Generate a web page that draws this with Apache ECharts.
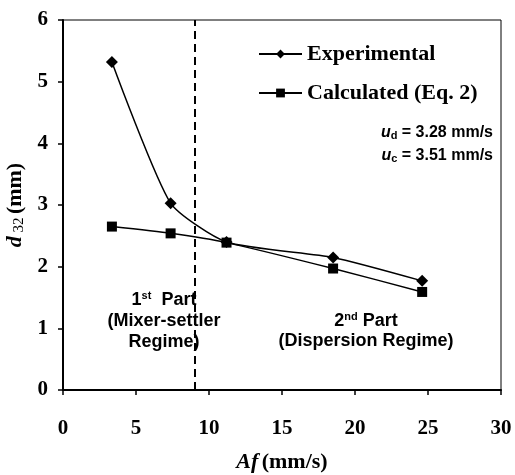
<!DOCTYPE html>
<html>
<head>
<meta charset="utf-8">
<script src="https://cdn.jsdelivr.net/npm/echarts@6/dist/echarts.min.js"></script>
<style>html,body{margin:0;padding:0;background:#fff;}#chart{width:515px;height:475px;}</style>
</head>
<body>
<div id="chart"></div>
<script>
const afValues = [3.35, 7.37, 11.2, 18.5, 24.6];
const experimental = [5.32, 3.03, 2.40, 2.15, 1.77];
const calculated = [2.65, 2.54, 2.39, 1.97, 1.59];
const regimeBoundary = 9;
const xTicks = { min: 0, max: 30, interval: 5 };
const yTicks = { min: 0, max: 6, interval: 1 };

const serif = "'Liberation Serif', 'Times New Roman', serif";
const sans = "'Liberation Sans', Arial, sans-serif";

const chart = echarts.init(document.getElementById('chart'), null, { renderer: 'canvas' });

function pairs(xs, ys) { return xs.map((x, i) => [x, ys[i]]); }

const option = {
  backgroundColor: '#fff',
  animation: false,
  grid: {
    left: 63, right: 14, top: 20, bottom: 85, containLabel: false, outerBoundsMode: 'none',
    show: true, borderColor: '#000', borderWidth: 1, backgroundColor: 'transparent'
  },
  legend: {
    orient: 'vertical', left: 253, top: 38,
    itemWidth: 43, itemHeight: 11, itemGap: 17,
    textStyle: { fontFamily: serif, fontWeight: 'bold', fontSize: 22, color: '#000', lineHeight: 22 },
    data: ['Experimental', 'Calculated (Eq. 2)']
  },
  xAxis: {
    type: 'value', min: xTicks.min, max: xTicks.max, interval: xTicks.interval,
    name: '{i|Af} {n|(mm/s)}', nameLocation: 'middle', nameGap: 61,
    nameTextStyle: {
      color: '#000',
      rich: {
        i: { fontFamily: serif, fontWeight: 'bold', fontStyle: 'italic', fontSize: 22, color: '#000' },
        n: { fontFamily: serif, fontWeight: 'bold', fontSize: 22, color: '#000' }
      }
    },
    axisLine: { lineStyle: { color: '#000', width: 2 } },
    axisTick: { show: true, inside: false, length: 5, lineStyle: { color: '#000', width: 1.5 } },
    axisLabel: { color: '#000', fontFamily: serif, fontWeight: 'bold', fontSize: 21, margin: 28 },
    splitLine: { show: false }
  },
  yAxis: {
    type: 'value', min: yTicks.min, max: yTicks.max, interval: yTicks.interval,
    name: '{i|d}{s| 32} {n|(mm)}', nameLocation: 'middle', nameGap: 34, nameRotate: 90,
    nameTextStyle: {
      color: '#000',
      rich: {
        i: { fontFamily: serif, fontWeight: 'bold', fontStyle: 'italic', fontSize: 22, color: '#000' },
        s: { fontFamily: serif, fontSize: 15, color: '#000', verticalAlign: 'bottom' },
        n: { fontFamily: serif, fontWeight: 'bold', fontSize: 22, color: '#000' }
      }
    },
    axisLine: { show: true, lineStyle: { color: '#000', width: 2 } },
    axisTick: { show: true, inside: false, length: 5, lineStyle: { color: '#000', width: 1.5 } },
    axisLabel: { color: '#000', fontFamily: serif, fontWeight: 'bold', fontSize: 21, margin: 15 },
    splitLine: { show: false }
  },
  series: [
    {
      name: 'Experimental', type: 'line', smooth: 0.2,
      data: pairs(afValues, experimental),
      symbol: 'diamond', symbolSize: 12,
      itemStyle: { color: '#000' },
      lineStyle: { color: '#000', width: 1.5 },
      z: 3,
      markLine: {
        silent: true, symbol: 'none', label: { show: false },
        lineStyle: { color: '#000', type: [8, 5], width: 2 },
        data: [{ xAxis: regimeBoundary }]
      }
    },
    {
      name: 'Calculated (Eq. 2)', type: 'line', smooth: 0.2,
      data: pairs(afValues, calculated),
      symbol: 'rect', symbolSize: 10,
      itemStyle: { color: '#000' },
      lineStyle: { color: '#000', width: 1.5 },
      z: 4
    }
  ],
  graphic: [
    {
      type: 'text', x: 493, y: 133, z: 10,
      style: {
        text: '{u|u}{sub|d}{t| = 3.28 mm/s}', fill: '#000',
        align: 'right', verticalAlign: 'middle', textAlign: 'right', textVerticalAlign: 'middle',
        rich: {
          u: { fontFamily: sans, fontWeight: 'bold', fontStyle: 'italic', fontSize: 16, fill: '#000' },
          sub: { fontFamily: sans, fontWeight: 'bold', fontSize: 11, fill: '#000', verticalAlign: 'bottom' },
          t: { fontFamily: sans, fontWeight: 'bold', fontSize: 16, fill: '#000' }
        }
      }
    },
    {
      type: 'text', x: 493, y: 156, z: 10,
      style: {
        text: '{u|u}{sub|c}{t| = 3.51 mm/s}', fill: '#000',
        align: 'right', verticalAlign: 'middle', textAlign: 'right', textVerticalAlign: 'middle',
        rich: {
          u: { fontFamily: sans, fontWeight: 'bold', fontStyle: 'italic', fontSize: 16, fill: '#000' },
          sub: { fontFamily: sans, fontWeight: 'bold', fontSize: 11, fill: '#000', verticalAlign: 'bottom' },
          t: { fontFamily: sans, fontWeight: 'bold', fontSize: 16, fill: '#000' }
        }
      }
    },
    {
      type: 'text', x: 164, y: 290, z: 10,
      style: {
        text: '{n|1}{sup|st}{n|  Part}\n{n|(Mixer-settler}\n{n|Regime)}', fill: '#000',
        align: 'center', verticalAlign: 'top', textAlign: 'center', textVerticalAlign: 'top',
        rich: {
          n: { fontFamily: sans, fontWeight: 'bold', fontSize: 18, lineHeight: 21, fill: '#000' },
          sup: { fontFamily: sans, fontWeight: 'bold', fontSize: 11, lineHeight: 21, fill: '#000', verticalAlign: 'top' }
        }
      }
    },
    {
      type: 'text', x: 366, y: 311, z: 10,
      style: {
        text: '{n|2}{sup|nd}{n| Part}\n{n|(Dispersion Regime)}', fill: '#000',
        align: 'center', verticalAlign: 'top', textAlign: 'center', textVerticalAlign: 'top',
        rich: {
          n: { fontFamily: sans, fontWeight: 'bold', fontSize: 18, lineHeight: 20, fill: '#000' },
          sup: { fontFamily: sans, fontWeight: 'bold', fontSize: 11, lineHeight: 20, fill: '#000', verticalAlign: 'top' }
        }
      }
    }
  ]
};
chart.setOption(option);
</script>
</body>
</html>
